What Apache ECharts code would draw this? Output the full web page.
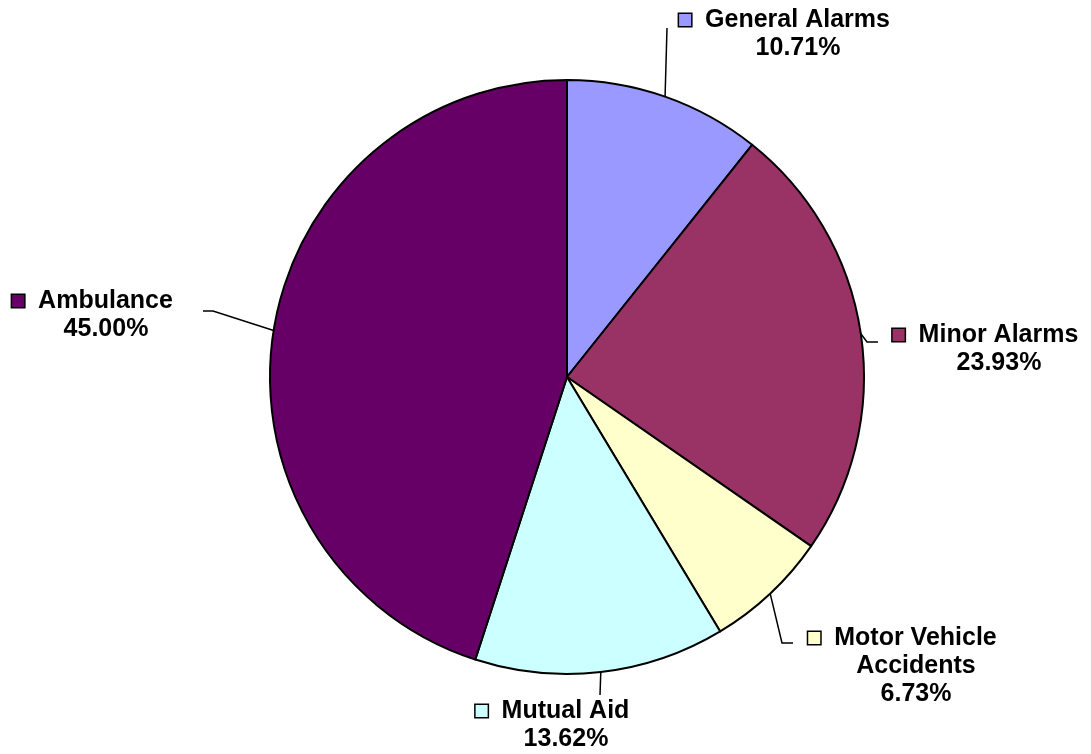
<!DOCTYPE html>
<html>
<head>
<meta charset="utf-8">
<script src="https://cdn.jsdelivr.net/npm/echarts@6/dist/echarts.min.js"></script>
<style>
  html, body { margin: 0; padding: 0; background: #fff; }
  #chart { width: 1091px; height: 754px; }
</style>
</head>
<body>
<div id="chart"></div>
<script>
const categories = ["General Alarms", "Minor Alarms", "Motor Vehicle\nAccidents", "Mutual Aid", "Ambulance"];
const shares = [10.71, 23.93, 6.73, 13.62, 45.00];
const colors = ["#9999ff", "#993366", "#ffffcc", "#ccffff", "#660066"];

// where each label block sits (text centre) and where its leader line ends
const labelPos = [[798, 34], [999, 349], [916, 666], [566, 725], [106, 315]];
const lineEnds = [
  [[667, 28]],
  [[867, 342], [878, 342]],
  [[782, 643], [793, 643]],
  [[600, 695]],
  [[213, 311], [203, 311]]
];

let chart = echarts.init(document.getElementById("chart"), null, { renderer: "canvas" });

const rich = { gap: { width: 14 }, pad: { width: 27 } };
colors.forEach((c, i) => {
  rich["k" + i] = { width: 12, height: 12, backgroundColor: c, borderColor: "#000", borderWidth: 1.5 };
});

function labelText(p) {
  const lines = categories[p.dataIndex].split("\n");
  lines[0] = `{k${p.dataIndex}| }{gap| }${lines[0]}{pad| }`;
  return lines.join("\n") + "\n" + shares[p.dataIndex].toFixed(2) + "%";
}

chart.setOption({
  animation: false,
  backgroundColor: "#fff",
  series: [{
    type: "pie",
    center: [567, 377],
    radius: 297,
    startAngle: 90,
    clockwise: true,
    data: categories.map((n, i) => ({ name: n, value: shares[i], itemStyle: { color: colors[i] } })),
    itemStyle: { borderColor: "#000", borderWidth: 2 },
    label: {
      show: true,
      position: "outside",
      overflow: "none",
      formatter: labelText,
      fontFamily: "Liberation Sans, Arial, sans-serif",
      fontWeight: "bold",
      fontSize: 25,
      lineHeight: 28,
      color: "#000",
      align: "center",
      rich: rich
    },
    labelLine: { show: true, lineStyle: { color: "#000", width: 1.5 } },
    emphasis: { disabled: true },
    labelLayout: (params) => {
      const i = params.dataIndex;
      const start = params.labelLinePoints ? params.labelLinePoints[0] : null;
      const out = {
        x: labelPos[i][0],
        y: labelPos[i][1],
        align: "center",
        verticalAlign: "middle"
      };
      if (start) out.labelLinePoints = [start].concat(lineEnds[i]);
      return out;
    }
  }]
});
window.addEventListener("resize", () => chart.resize());
</script>
</body>
</html>
